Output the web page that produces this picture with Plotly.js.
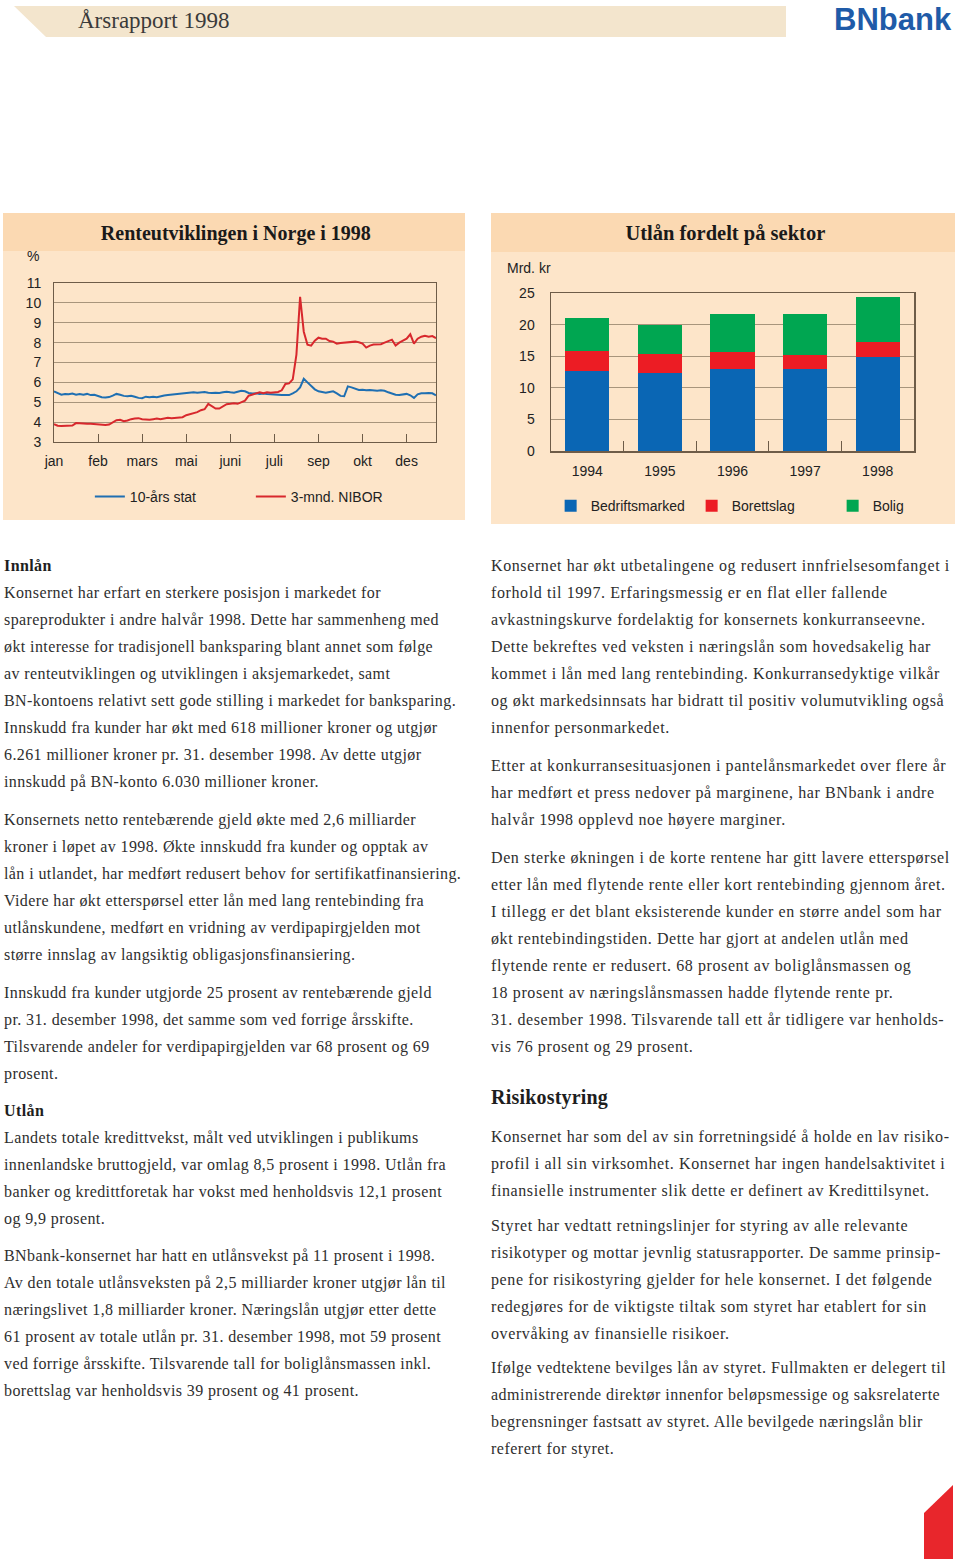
<!DOCTYPE html>
<html><head><meta charset="utf-8">
<script src="https://cdn.plot.ly/plotly-3.0.1.min.js"></script>
<style>
body{margin:0;background:#fff;width:960px;height:1559px;position:relative;overflow:hidden;}
.abs{position:absolute;}
.txt{position:absolute;font-family:"Liberation Serif","Times New Roman",serif;font-size:16px;line-height:27px;color:#2e2e2e;white-space:nowrap;letter-spacing:0.4px;}
.r{letter-spacing:0.6px;}
.txt b{color:#1e1e1e;}
.panel{position:absolute;background:#fde5c9;}
.band{position:absolute;left:0;top:0;right:0;height:38px;background:#fbd9b2;}
</style></head><body>

<svg class="abs" style="left:0;top:0" width="800" height="45">
  <polygon points="14,6 786,6 786,37 46,37" fill="#f3e5cd"/>
</svg>
<div class="abs" style="left:78px;top:8px;font-family:'Liberation Serif',serif;font-size:23px;color:#3a3a3a;white-space:nowrap;">Årsrapport 1998</div>
<div class="abs" style="left:834px;top:2px;font-family:'Liberation Sans',Arial,sans-serif;font-weight:bold;font-size:31px;color:#1f5ba8;letter-spacing:0px;white-space:nowrap;">BNbank</div>

<div class="panel" style="left:3px;top:213px;width:462px;height:307px;"><div class="band"></div></div>
<div class="panel" style="left:491px;top:213px;width:464px;height:311px;"><div class="band" style="height:39px"></div></div>

<div id="lineChart" class="abs" style="left:3px;top:213px;width:462px;height:307px;"></div>
<div id="barChart" class="abs" style="left:491px;top:213px;width:464px;height:310px;"></div>

<div class="txt" style="left:4px;top:552px;"><b>Innlån</b><br>Konsernet har erfart en sterkere posisjon i markedet for<br>spareprodukter i andre halvår 1998. Dette har sammenheng med<br>økt interesse for tradisjonell banksparing blant annet som følge<br>av renteutviklingen og utviklingen i aksjemarkedet, samt<br>BN-kontoens relativt sett gode stilling i markedet for banksparing.<br>Innskudd fra kunder har økt med 618 millioner kroner og utgjør<br>6.261 millioner kroner pr. 31. desember 1998. Av dette utgjør<br>innskudd på BN-konto 6.030 millioner kroner.</div>
<div class="txt" style="left:4px;top:806px;">Konsernets netto rentebærende gjeld økte med 2,6 milliarder<br>kroner i løpet av 1998. Økte innskudd fra kunder og opptak av<br>lån i utlandet, har medført redusert behov for sertifikatfinansiering.<br>Videre har økt etterspørsel etter lån med lang rentebinding fra<br>utlånskundene, medført en vridning av verdipapirgjelden mot<br>større innslag av langsiktig obligasjonsfinansiering.</div>
<div class="txt" style="left:4px;top:979px;">Innskudd fra kunder utgjorde 25 prosent av rentebærende gjeld<br>pr. 31. desember 1998, det samme som ved forrige årsskifte.<br>Tilsvarende andeler for verdipapirgjelden var 68 prosent og 69<br>prosent.</div>
<div class="txt" style="left:4px;top:1097px;"><b>Utlån</b><br>Landets totale kredittvekst, målt ved utviklingen i publikums<br>innenlandske bruttogjeld, var omlag 8,5 prosent i 1998. Utlån fra<br>banker og kredittforetak har vokst med henholdsvis 12,1 prosent<br>og 9,9 prosent.</div>
<div class="txt" style="left:4px;top:1242px;">BNbank-konsernet har hatt en utlånsvekst på 11 prosent i 1998.<br>Av den totale utlånsveksten på 2,5 milliarder kroner utgjør lån til<br>næringslivet 1,8 milliarder kroner. Næringslån utgjør etter dette<br>61 prosent av totale utlån pr. 31. desember 1998, mot 59 prosent<br>ved forrige årsskifte. Tilsvarende tall for boliglånsmassen inkl.<br>borettslag var henholdsvis 39 prosent og 41 prosent.</div>

<div class="txt r" style="left:491px;top:552px;">Konsernet har økt utbetalingene og redusert innfrielsesomfanget i<br>forhold til 1997. Erfaringsmessig er en flat eller fallende<br>avkastningskurve fordelaktig for konsernets konkurranseevne.<br>Dette bekreftes ved veksten i næringslån som hovedsakelig har<br>kommet i lån med lang rentebinding. Konkurransedyktige vilkår<br>og økt markedsinnsats har bidratt til positiv volumutvikling også<br>innenfor personmarkedet.</div>
<div class="txt r" style="left:491px;top:752px;">Etter at konkurransesituasjonen i pantelånsmarkedet over flere år<br>har medført et press nedover på marginene, har BNbank i andre<br>halvår 1998 opplevd noe høyere marginer.</div>
<div class="txt r" style="left:491px;top:844px;">Den sterke økningen i de korte rentene har gitt lavere etterspørsel<br>etter lån med flytende rente eller kort rentebinding gjennom året.<br>I tillegg er det blant eksisterende kunder en større andel som har<br>økt rentebindingstiden. Dette har gjort at andelen utlån med<br>flytende rente er redusert. 68 prosent av boliglånsmassen og<br>18 prosent av næringslånsmassen hadde flytende rente pr.<br>31. desember 1998. Tilsvarende tall ett år tidligere var henholds-<br>vis 76 prosent og 29 prosent.</div>
<div class="txt" style="left:491px;top:1084px;font-size:20px;letter-spacing:0.2px;"><b>Risikostyring</b></div>
<div class="txt r" style="left:491px;top:1123px;">Konsernet har som del av sin forretningsidé å holde en lav risiko-<br>profil i all sin virksomhet. Konsernet har ingen handelsaktivitet i<br>finansielle instrumenter slik dette er definert av Kredittilsynet.</div>
<div class="txt r" style="left:491px;top:1212px;">Styret har vedtatt retningslinjer for styring av alle relevante<br>risikotyper og mottar jevnlig statusrapporter. De samme prinsip-<br>pene for risikostyring gjelder for hele konsernet. I det følgende<br>redegjøres for de viktigste tiltak som styret har etablert for sin<br>overvåking av finansielle risikoer.</div>
<div class="txt r" style="left:491px;top:1354px;letter-spacing:0.5px;">Ifølge vedtektene bevilges lån av styret. Fullmakten er delegert til<br>administrerende direktør innenfor beløpsmessige og saksrelaterte<br>begrensninger fastsatt av styret. Alle bevilgede næringslån blir<br>referert for styret.</div>

<svg class="abs" style="left:900px;top:1470px" width="60" height="89">
  <polygon points="24,43 53,15 53,89 24,89" fill="#e8262c"/>
</svg>

<script>
// ---- Renteutviklingen i Norge i 1998 (approx. every ~3.5 days) ----
const monthLabels = ['jan','feb','mars','mai','juni','juli','sep','okt','des'];
const stat10 = [
 5.55,5.45,5.38,5.42,5.40,5.44,5.38,5.42,5.38,5.42,
 5.36,5.38,5.32,5.25,5.24,5.26,5.33,5.42,5.38,5.32,
 5.30,5.33,5.28,5.22,5.20,5.28,5.25,5.27,5.25,5.30,
 5.34,5.36,5.38,5.37,5.40,5.42,5.43,5.47,5.50,5.48,
 5.50,5.52,5.48,5.46,5.48,5.47,5.50,5.53,5.50,5.48,
 5.53,5.58,5.55,5.47,5.44,5.45,5.42,5.44,5.42,5.40,
 5.38,5.37,5.37,5.37,5.36,5.45,5.55,5.75,6.18,6.00,
 5.80,5.65,5.55,5.50,5.48,5.52,5.55,5.45,5.32,5.30,
 5.80,5.75,5.68,5.62,5.63,5.60,5.62,5.60,5.58,5.60,
 5.58,5.50,5.42,5.38,5.36,5.40,5.42,5.35,5.22,5.40,
 5.45,5.45,5.47,5.45,5.35
];
const nibor3m = [
 3.90,3.82,3.80,3.82,3.82,3.83,3.95,3.93,3.93,3.92,
 3.92,3.90,3.88,3.85,3.85,3.88,4.00,4.10,4.12,4.05,
 4.08,4.15,4.18,4.20,4.15,4.12,4.12,4.15,4.18,4.15,
 4.20,4.22,4.20,4.22,4.22,4.25,4.35,4.40,4.45,4.50,
 4.60,4.65,4.92,4.80,4.68,4.68,4.80,4.90,4.92,4.95,
 4.92,5.00,5.08,5.33,5.40,5.45,5.50,5.45,5.50,5.48,
 5.50,5.52,5.60,5.92,5.95,6.15,7.40,10.30,8.55,7.90,
 7.85,8.10,8.25,8.20,8.20,8.08,8.05,7.95,7.98,8.00,
 8.02,8.05,8.05,8.02,7.95,7.75,7.85,7.90,7.90,7.92,
 8.00,8.08,8.15,7.85,8.00,8.10,8.20,8.42,7.95,8.20,
 8.30,8.35,8.30,8.33,8.22
];

// ---- Utlån fordelt på sektor (Mrd. kr) ----
const years = ['1994','1995','1996','1997','1998'];
const bedriftsmarked = [12.7, 12.4, 12.9, 12.9, 14.8];
const borettslag     = [3.2, 2.9, 2.8, 2.3, 2.4];
const bolig          = [5.1, 4.7, 5.9, 6.5, 7.1];

const sansFont = '"Liberation Sans Narrow","Arial Narrow","Liberation Sans",Arial,sans-serif';
const serifFont = '"Liberation Serif","Times New Roman",serif';
const axisCol = '#6e5c48';
const gridCol = '#a8957c';
const tickFont = {family: sansFont, size: 14, color: '#222'};

const idx = stat10.map((_, i) => i);
const tickIdx = monthLabels.map((_, i) => i * 12);

Plotly.newPlot('lineChart', [
  {x: idx, y: stat10, type: 'scatter', mode: 'lines', name: '10-års stat',
   line: {color: '#1f6fb2', width: 2}},
  {x: idx, y: nibor3m, type: 'scatter', mode: 'lines', name: '3-mnd. NIBOR',
   line: {color: '#d8282d', width: 2}}
], {
  width: 462, height: 307,
  margin: {l: 51, r: 29, t: 70, b: 78, pad: 0, autoexpand: false},
  paper_bgcolor: 'rgba(0,0,0,0)', plot_bgcolor: 'rgba(0,0,0,0)',
  title: {text: '<b>Renteutviklingen i Norge i 1998</b>', font: {family: serifFont, size: 20, color: '#1a1a1a'},
          x: 0.504, xref: 'container', xanchor: 'center', y: 0.936, yref: 'container', yanchor: 'middle'},
  xaxis: {range: [0, 104], tickmode: 'array', tickvals: tickIdx, ticktext: monthLabels,
          ticks: 'inside', ticklen: 8, tickcolor: axisCol, tickwidth: 1,
          showline: true, linecolor: axisCol, linewidth: 1, mirror: true,
          showgrid: false, zeroline: false, tickfont: tickFont, ticklabelstandoff: 6, fixedrange: true},
  yaxis: {range: [3, 11], dtick: 1, tick0: 3, ticks: '', showline: true, linecolor: axisCol, linewidth: 1, mirror: true,
          showgrid: true, gridcolor: gridCol, gridwidth: 1, zeroline: false, tickfont: tickFont, ticklabelstandoff: 9, fixedrange: true},
  showlegend: true,
  legend: {orientation: 'h', xref: 'container', yref: 'container', x: 0.188, xanchor: 'left', y: 0.075, yanchor: 'middle',
           entrywidth: 116, bgcolor: 'rgba(0,0,0,0)', font: tickFont, traceorder: 'normal'},
  annotations: [{text: '%', xref: 'paper', yref: 'paper', x: -0.056, y: 1.167, showarrow: false,
                 xanchor: 'center', yanchor: 'middle', font: tickFont}]
}, {staticPlot: true, displayModeBar: false});

Plotly.newPlot('barChart', [
  {x: years, y: bedriftsmarked, type: 'bar', name: 'Bedriftsmarked', marker: {color: '#0a66b4'}},
  {x: years, y: borettslag, type: 'bar', name: 'Borettslag', marker: {color: '#ec1c24'}},
  {x: years, y: bolig, type: 'bar', name: 'Bolig', marker: {color: '#00a651'}}
], {
  width: 464, height: 310,
  margin: {l: 60, r: 41, t: 80, b: 72, pad: 0, autoexpand: false},
  paper_bgcolor: 'rgba(0,0,0,0)', plot_bgcolor: 'rgba(0,0,0,0)',
  barmode: 'stack', bargap: 0.39,
  title: {text: '<b>Utlån fordelt på sektor</b>', font: {family: serifFont, size: 20.5, color: '#1a1a1a'},
          x: 0.505, xref: 'container', xanchor: 'center', y: 0.935, yref: 'container', yanchor: 'middle'},
  xaxis: {type: 'category', ticks: 'inside', tickson: 'boundaries', ticklen: 10, tickcolor: axisCol,
          showline: true, linecolor: axisCol, linewidth: 1.5, mirror: true, showgrid: false,
          tickfont: tickFont, ticklabelstandoff: 7, fixedrange: true},
  yaxis: {range: [0, 25], dtick: 5, ticks: '', showline: true, linecolor: axisCol, linewidth: 1.5, mirror: true,
          showgrid: true, gridcolor: gridCol, gridwidth: 1, zeroline: false, tickfont: tickFont,
          ticklabelstandoff: 12, fixedrange: true},
  showlegend: true,
  legend: {orientation: 'h', xref: 'paper', yref: 'paper', x: -0.001, xanchor: 'left', y: -0.349, yanchor: 'middle',
           entrywidth: 96, bgcolor: 'rgba(0,0,0,0)', font: tickFont, traceorder: 'normal'},
  annotations: [{text: 'Mrd. kr', xref: 'paper', yref: 'paper', x: -0.127, y: 1.16, showarrow: false,
                 xanchor: 'left', yanchor: 'middle', font: tickFont}]
}, {staticPlot: true, displayModeBar: false});
</script>
</body></html>
